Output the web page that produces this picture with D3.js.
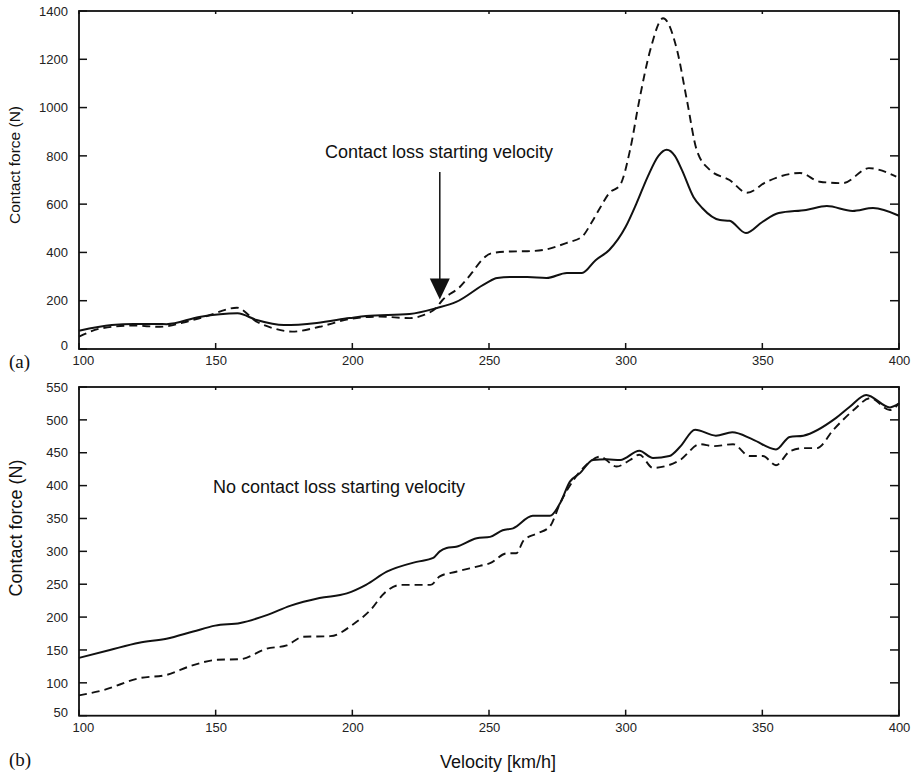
<!DOCTYPE html>
<html lang="en">
<head>
<meta charset="UTF-8">
<title>Contact force vs velocity</title>
<script src="https://d3js.org/d3.v7.min.js"></script>
<style>
    body { margin: 0; background: #fff; }
    svg { display: block; }
    .tick text { font-family: "Liberation Sans", Arial, sans-serif; font-size: 13px; fill: #222; }
    .domain { display: none; }
    .lbl { font-family: "Liberation Sans", Arial, sans-serif; fill: #111; }
    .tag { font-family: "Liberation Serif", "Times New Roman", serif; font-size: 19px; fill: #111; }
</style>
</head>
<body>
<script>
// panel (a): with contact loss
const aSolidV = [100,112,120,132,144,158,165,175,187,199,205,221,231,238,249,253,258,264,271,278.5,284,289,294,300,304,308,312,315,318,320.6,324.8,328,334.5,338,344,350,356,366,373.6,383,390.5,400];
const aSolidF = [76,99,104,103,133,148,120,99,108,128,137,145,170,195,273,294,298,298,294,315,315,368,410,506,604,712,800,825,800,741,630,584,534,531,480,526,563,576,592,572,584,552];
const aDashV = [100,108.8,120,129.6,140,147,157.8,165,171,178,188,199,210,221,226,230.6,233,239.4,243.7,247.4,251,258,264,269.8,278.5,284,287.7,290.6,294,298,301.6,305,309,313.7,318.8,322.4,326,330.9,338,344.4,351.6,363.8,371,379.5,389,399];
const aDashF = [51,87,97,92,115,137,171,113,86,72,92,124,134,128,140,170,203,258,315,369,397,404,405,410,440,465,527,584,646,680,824,1031,1238,1370,1238,1031,824,741,700,647,693,729,693,687,749,714];

// panel (b): without contact loss
const bSolidV = [100,111.3,122,132,141.8,149.8,159,168.7,177.2,188,198,205,212.6,223.5,229.6,232,234.5,238,245.5,250.4,255,258.8,266,272.3,276,279.6,283.3,288,293,298,305,310,316,319.9,325.4,333,339,346.6,355,360,365,377,382,388,396.7,400];
const bSolidF = [138,150,161,167,178,187,191,203,217,229,236,249,269,284,290,300,305,307,320,322,332,335,354,354,373,406,419,439,440,439,453,442,445,459,485,476,481,470,455,474,476,503,520,538,519,525];
const bDashV = [100,109,122,132,141.8,150.6,159,168.7,176,182,192,200.6,206.7,211.6,217.7,228.6,232,238,246.7,250.4,256.5,260,262.7,267.5,272.3,276,281,285.8,290.6,296.7,301.6,305,310,319.9,327.2,332,339.3,345.3,350.2,355,360,365,370,376,383.4,389.5,396.7,400];
const bDashF = [81,89,107,112,127,135,136,152,157,170,171,190,211,236,249,249,262,269,278,282,297,297,317,327,338,373,409,432,444,429,439,447,427,439,463,460,463,445,445,431,452,457,457,485,515,533,515,525];

const xTicks = [100,150,200,250,300,350,400];
const aTicks = [0,200,400,600,800,1000,1200,1400];
const bTicks = [50,100,150,200,250,300,350,400,450,500,550];

const W = 913, H = 773;
const left = 79, right = 899;

const svg = d3.select("body").append("svg").attr("width", W).attr("height", H);

function panel(top, bottom, yDomain, yTicks, series) {
    const x = d3.scaleLinear().domain([100, 400]).range([left, right]);
    const y = d3.scaleLinear().domain(yDomain).range([bottom, top]);
    const g = svg.append("g");
    const fmt = d3.format("d");

    // labels only, tick marks are drawn below
    g.append("g").attr("transform", "translate(0," + bottom + ")")
        .call(d3.axisBottom(x).tickValues(xTicks).tickFormat(fmt).tickSize(0).tickPadding(7));
    g.append("g").attr("class", "yleft").attr("transform", "translate(" + left + ",0)")
        .call(d3.axisLeft(y).tickValues(yTicks).tickFormat(fmt).tickSize(0).tickPadding(11));

    // lowest y label sits above the corner, first x label a bit to the right
    g.select(".yleft").selectAll(".tick text").filter(d => d === yDomain[0]).attr("dy", "0.05em");
    g.selectAll(".tick text").filter(function (d) { return d === 100 && this.getAttribute("dy") === "0.71em"; })
        .attr("dx", "0.3em");

    // inward tick marks on all four sides
    const tk = g.append("g").attr("stroke", "#111").attr("stroke-width", 1.5);
    tk.selectAll(".xb").data(xTicks).join("line")
        .attr("x1", d => x(d)).attr("x2", d => x(d)).attr("y1", bottom).attr("y2", bottom - 6);
    tk.selectAll(".xt").data(xTicks).join("line")
        .attr("x1", d => x(d)).attr("x2", d => x(d)).attr("y1", top).attr("y2", top + 3);
    tk.selectAll(".yl").data(yTicks).join("line")
        .attr("x1", left).attr("x2", left + 8).attr("y1", d => y(d)).attr("y2", d => y(d));
    tk.selectAll(".yr").data(yTicks).join("line")
        .attr("x1", right).attr("x2", right - 9).attr("y1", d => y(d)).attr("y2", d => y(d));

    g.append("rect").attr("x", left).attr("y", top)
        .attr("width", right - left).attr("height", bottom - top)
        .attr("fill", "none").attr("stroke", "#111").attr("stroke-width", 1.8);

    const line = d3.line().x(d => x(d[0])).y(d => y(d[1])).curve(d3.curveMonotoneX);
    series.forEach(s => {
        g.append("path").datum(d3.zip(s.v, s.f))
            .attr("d", line).attr("fill", "none").attr("stroke", "#111")
            .attr("stroke-width", s.dash ? 1.9 : 2)
            .attr("stroke-dasharray", s.dash ? "8,5" : null);
    });
    return { x, y };
}

const a = panel(11, 349, [0, 1400], aTicks, [
    { v: aDashV, f: aDashF, dash: true },
    { v: aSolidV, f: aSolidF, dash: false }
]);
const b = panel(387, 715.7, [50, 550], bTicks, [
    { v: bDashV, f: bDashF, dash: true },
    { v: bSolidV, f: bSolidF, dash: false }
]);

// axis titles
svg.append("text").attr("class", "lbl").attr("font-size", 15.5)
    .attr("transform", "translate(20,165) rotate(-90)").attr("text-anchor", "middle")
    .text("Contact force (N)");
svg.append("text").attr("class", "lbl").attr("font-size", 18)
    .attr("transform", "translate(22,528) rotate(-90)").attr("text-anchor", "middle")
    .text("Contact force (N)");
svg.append("text").attr("class", "lbl").attr("font-size", 18)
    .attr("x", 440).attr("y", 768).text("Velocity [km/h]");

// panel tags
svg.append("text").attr("class", "tag").attr("x", 9).attr("y", 368).text("(a)");
svg.append("text").attr("class", "tag").attr("x", 9).attr("y", 766).text("(b)");

// annotations
svg.append("text").attr("class", "lbl").attr("font-size", 18)
    .attr("x", 325).attr("y", 158).text("Contact loss starting velocity");
svg.append("text").attr("class", "lbl").attr("font-size", 18)
    .attr("x", 213).attr("y", 493).text("No contact loss starting velocity");

// arrow to the start of contact loss
const ax = a.x(232), tip = a.y(205);
svg.append("line").attr("x1", ax).attr("x2", ax).attr("y1", 172).attr("y2", tip - 18)
    .attr("stroke", "#111").attr("stroke-width", 1.5);
svg.append("path")
    .attr("d", "M" + (ax - 10) + "," + (tip - 21) + "L" + (ax + 10) + "," + (tip - 21) + "L" + ax + "," + tip + "Z")
    .attr("fill", "#111");
</script>
</body>
</html>
